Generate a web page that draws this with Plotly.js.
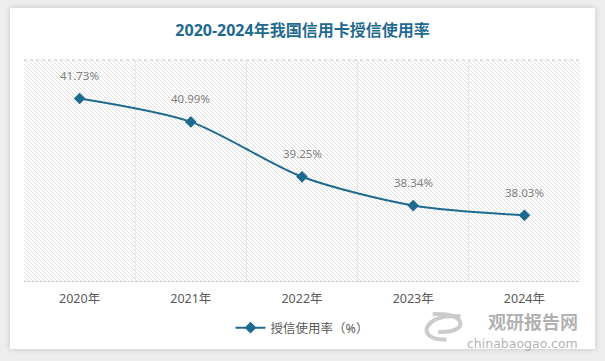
<!DOCTYPE html>
<html><head><meta charset="utf-8">
<script src="https://cdn.plot.ly/plotly-3.0.1.min.js"></script>
<style>
html,body{margin:0;padding:0;background:#eeeeee;width:605px;height:361px;overflow:hidden;}
#card{position:absolute;left:10px;top:8px;width:585px;height:341px;background:#fff;box-shadow:0 0 6px rgba(0,0,0,0.18);}
#chart{position:absolute;left:0;top:0;width:605px;height:361px;}
</style></head>
<body>
<div id="card"></div>
<div id="chart"></div>
<script>
const years = ['2020年','2021年','2022年','2023年','2024年'];
const usageRate = [41.73, 40.99, 39.25, 38.34, 38.03];
const seriesName = '授信使用率（%）';
const chartTitle = '2020-2024年我国信用卡授信使用率';

const plotW = 556, plotH = 221;
const svg = `<svg xmlns="http://www.w3.org/2000/svg" width="${plotW}" height="${plotH}" viewBox="0 0 ${plotW} ${plotH}" preserveAspectRatio="none"><defs><pattern id="p" patternUnits="userSpaceOnUse" width="4" height="4"><path d="M-1,-1 L5,5 M-1,3 L1,5 M3,-1 L5,1" stroke="#dadada" stroke-width="0.9"/></pattern></defs><rect width="100%" height="100%" fill="#fff"/><rect width="100%" height="100%" fill="url(#p)"/></svg>`;
const img = 'data:image/svg+xml;base64,' + btoa(svg);

const font = 'Noto Sans, Noto Sans CJK SC, sans-serif';
const lineColor = '#1f6b8f';
const trace = {
  x: years, y: usageRate, name: seriesName, type: 'scatter', mode: 'lines+markers',
  line: {color: lineColor, width: 2, shape: 'spline', smoothing: 0.8},
  marker: {symbol: 'diamond', size: 9, color: lineColor},
  cliponaxis: false
};

const labelAnns = years.map((c, i) => ({
  x: c, y: usageRate[i], xref: 'x', yref: 'y', text: usageRate[i].toFixed(2) + '%',
  showarrow: false, yanchor: 'middle', yshift: 23,
  font: {family: font, size: 11.5, color: '#808080'}
}));

const wmColor = 'rgba(125,125,125,0.6)';
const layout = {
  width: 605, height: 361,
  margin: {l: 24, r: 25, t: 60, b: 80},
  paper_bgcolor: 'rgba(0,0,0,0)', plot_bgcolor: 'rgba(0,0,0,0)',
  title: {text: '<b>' + chartTitle + '</b>', x: 0.5, xanchor: 'center', y: 0.915, yanchor: 'middle',
          font: {family: font, size: 16, color: '#1f6b8f'}},
  xaxis: {type: 'category', tickson: 'boundaries', showgrid: true, gridcolor: '#e6e6e6', gridwidth: 1,
          showline: true, linecolor: '#d9d9d9', ticks: '', zeroline: false, ticklabelstandoff: 6,
          tickfont: {family: font, size: 12.5, color: '#595959'}, range: [-0.5, 4.5]},
  yaxis: {range: [35.95, 42.95], showgrid: false, showticklabels: false, zeroline: false, ticks: '', showline: false},
  showlegend: true,
  legend: {orientation: 'h', x: 0.5, xanchor: 'center', y: -0.213, yanchor: 'middle', itemwidth: 30,
           font: {family: font, size: 12.5, color: '#595959'}},
  images: [{source: img, xref: 'paper', yref: 'paper', x: 0, y: 1, sizex: 1, sizey: 1,
            xanchor: 'left', yanchor: 'top', sizing: 'stretch', layer: 'below'}],
  shapes: [
    {type: 'line', xref: 'paper', yref: 'paper', x0: 0, x1: 1, y0: 1, y1: 1,
     line: {color: '#c8c8c8', width: 1, dash: 'dot'}},
    {type: 'path', xref: 'paper', yref: 'paper',
     path: 'M 0.785,-0.16 C 0.72,-0.14 0.70,-0.27 0.76,-0.265 M 0.745,-0.23 C 0.80,-0.24 0.80,-0.14 0.735,-0.15',
     line: {color: 'rgba(140,140,140,0.45)', width: 4}}
  ],
  annotations: labelAnns.concat([
    {text: '<b>观研报告网</b>', xref: 'paper', yref: 'paper', x: 1.0, y: -0.181, xanchor: 'right', yanchor: 'middle',
     showarrow: false, font: {family: 'Noto Sans CJK SC', size: 18, color: wmColor}},
    {text: 'chinabaogao.com', xref: 'paper', yref: 'paper', x: 1.0, y: -0.282, xanchor: 'right', yanchor: 'middle',
     showarrow: false, font: {family: 'DejaVu Sans', size: 12.5, color: wmColor}}
  ])
};
Plotly.newPlot('chart', [trace], layout, {displayModeBar: false, staticPlot: true});
</script>
</body></html>
